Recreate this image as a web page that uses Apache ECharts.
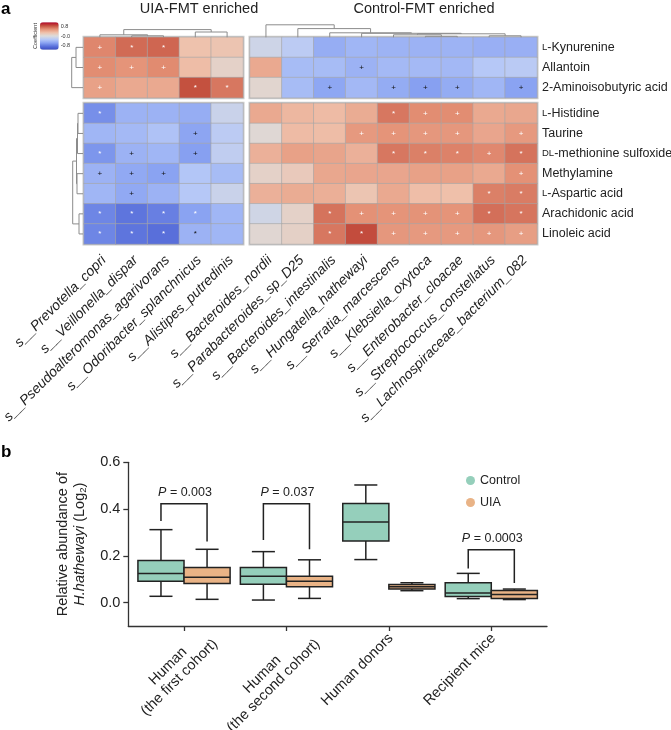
<!DOCTYPE html>
<html><head><meta charset="utf-8">
<script src="https://cdn.jsdelivr.net/npm/echarts@6/dist/echarts.min.js"></script>
<style>html,body{margin:0;padding:0;background:#fff}#c{width:671px;height:730px}</style>
</head><body><div id="c"></div>
<script>
const FONT = '"Liberation Sans", Arial, Helvetica, sans-serif';

// ---------- panel a data ----------
const metabolites = ['L-Kynurenine','Allantoin','2-Aminoisobutyric acid','L-Histidine','Taurine','DL-methionine sulfoxide','Methylamine','L-Aspartic acid','Arachidonic acid','Linoleic acid'];
const uiaTaxa = ['s__Prevotella_copri','s__Veillonella_dispar','s__Pseudoalteromonas_agarivorans','s__Odoribacter_splanchnicus','s__Alistipes_putredinis'];
const ctrlTaxa = ['s__Bacteroides_nordii','s__Parabacteroides_sp_D25','s__Bacteroides_intestinalis','s__Hungatella_hathewayi','s__Serratia_marcescens','s__Klebsiella_oxytoca','s__Enterobacter_cloacae','s__Streptococcus_constellatus','s__Lachnospiraceae_bacterium_082'];

const uiaCoef = [
  [0.65, 0.78, 0.80, 0.28, 0.26],
  [0.62, 0.58, 0.63, 0.32, 0.12],
  [0.50, 0.45, 0.45, 0.90, 0.72],
  [-0.72, -0.48, -0.48, -0.52, -0.15],
  [-0.45, -0.42, -0.35, -0.58, -0.25],
  [-0.68, -0.48, -0.45, -0.62, -0.22],
  [-0.48, -0.55, -0.60, -0.32, -0.40],
  [-0.45, -0.55, -0.48, -0.30, -0.15],
  [-0.78, -0.88, -0.82, -0.60, -0.45],
  [-0.78, -0.88, -0.92, -0.48, -0.45]
];
const ctrlCoef = [
  [-0.12, -0.25, -0.52, -0.45, -0.47, -0.48, -0.47, -0.50, -0.50],
  [0.45, -0.40, -0.40, -0.48, -0.42, -0.42, -0.43, -0.30, -0.27],
  [0.08, -0.40, -0.57, -0.43, -0.53, -0.62, -0.53, -0.45, -0.60],
  [0.45, 0.36, 0.33, 0.43, 0.72, 0.62, 0.62, 0.45, 0.46],
  [0.05, 0.33, 0.32, 0.55, 0.58, 0.56, 0.56, 0.47, 0.55],
  [0.40, 0.50, 0.48, 0.40, 0.72, 0.68, 0.67, 0.64, 0.74],
  [0.12, 0.20, 0.46, 0.47, 0.47, 0.50, 0.50, 0.45, 0.60],
  [0.40, 0.43, 0.41, 0.25, 0.45, 0.31, 0.30, 0.68, 0.70],
  [-0.10, 0.12, 0.74, 0.60, 0.58, 0.59, 0.58, 0.76, 0.73],
  [0.06, 0.13, 0.72, 0.92, 0.56, 0.55, 0.55, 0.56, 0.52]
];
// significance markers ('.' = none)
const uiaSig = ['+**..','+++..','+..**','*....','...+.','*+.+.','+++..','.+...','****.','****.'];
const ctrlSig = ['.........','...+.....','..+.+++.+','....*++..','...++++.+','....***+*','........+','.......**','..*++++**','..**+++++'];

// dendrogram linkages: [childA, childB, height]; leaves 0..n-1, merges numbered n, n+1, ...
const colLinkUIA = [[1,2,1.5],[0,5,2.5],[3,4,5.3],[6,7,7.7]];
const colLinkCtrl = [[5,6,1.0],[7,8,1.5],[4,9,2.5],[11,10,3.5],[3,12,4.0],[2,13,4.5],[1,14,8.7],[0,15,12.5]];
const rowLinkTop = [[0,1,7],[2,3,11.3]];
const rowLinkBottom = [[0,1,5],[7,2,5.5],[3,4,6],[8,9,6.5],[5,6,4],[10,11,10.3]];

const colorbarTicks = [0.8, 0, -0.8];

// ---------- panel b data ----------
const boxCats = ['Human\n(the first cohort)','Human\n(the second cohort)','Human donors','Recipient mice'];
// [min, Q1, median, Q3, max]
const controlBox = [[0.027,0.091,0.125,0.180,0.312],[0.011,0.079,0.113,0.150,0.218],[0.184,0.264,0.345,0.424,0.503],[0.017,0.026,0.041,0.085,0.125]];
const uiaBox = [[0.014,0.082,0.108,0.150,0.228],[0.018,0.068,0.091,0.113,0.183],[0.051,0.058,0.068,0.077,0.085],[0.013,0.018,0.035,0.052,0.058]];
const pCats = [1, 2, 4];
const pTop = [0.423, 0.423, 0.226];
const pLeftEnd = [0.349, 0.268, 0.146];
const pRightEnd = [0.261, 0.228, 0.084];
const pLabels = ['0.003', '0.037', '0.0003'];
const yTicks = [0, 0.2, 0.4, 0.6];

// ---------- helpers ----------
function markColor(v, m){ if (v > 0) return '#ffffff'; return (m === '*' && v <= -0.5) ? '#ffffff' : '#111111'; }
function hmData(coef, sig, r0, r1){
  const out = [];
  for (let r = r0; r < r1; r++) for (let c = 0; c < coef[r].length; c++) {
    const v = coef[r][c], m = sig[r][c];
    out.push({ value: [c, r - r0, v], label: m === '.' ? { show: false } : { show: true, formatter: m, color: markColor(v, m) } });
  }
  return out;
}
function dendroSegs(n, link){
  const pos = [], ht = [], segs = [];
  for (let i = 0; i < n; i++) { pos[i] = i + 0.5; ht[i] = 0; }
  link.forEach(([a, b, h], k) => { pos[n + k] = (pos[a] + pos[b]) / 2; ht[n + k] = h; segs.push([pos[a], ht[a], pos[b], ht[b], h]); });
  return segs;
}
function dendroRender(colMode){
  return function(params, api){
    const a = api.value(0), ha = api.value(1), b = api.value(2), hb = api.value(3), h = api.value(4);
    const pt = (p, hh) => colMode ? api.coord([p, hh]) : api.coord([hh, p]);
    return { type: 'polyline', shape: { points: [pt(a, ha), pt(a, h), pt(b, h), pt(b, hb)] }, style: { stroke: '#8c8c8c', lineWidth: 1, fill: null } };
  };
}
function metLabel(v){
  if (v.indexOf('DL-') === 0) return '{sc|DL}' + v.slice(2);
  if (v.indexOf('L-') === 0) return '{sc|L}' + v.slice(1);
  return v;
}
const BOX_OFF = 0.225;   // half distance between paired boxes (axis units)
function boxRender(offset, fill){
  return function(params, api){
    const x = api.value(0), mn = api.value(1), q1 = api.value(2), md = api.value(3), q3 = api.value(4), mx = api.value(5);
    const xc = x + offset;
    const cx = api.coord([xc, md])[0];
    const half = api.size([BOX_OFF, 0])[0];
    const cap = half * 0.5;
    const y = v => api.coord([xc, v])[1];
    const ls = { stroke: '#222', lineWidth: 1.5 };
    return { type: 'group', children: [
      { type: 'line', shape: { x1: cx, y1: y(q3), x2: cx, y2: y(mx) }, style: ls },
      { type: 'line', shape: { x1: cx - cap, y1: y(mx), x2: cx + cap, y2: y(mx) }, style: ls },
      { type: 'line', shape: { x1: cx, y1: y(q1), x2: cx, y2: y(mn) }, style: ls },
      { type: 'line', shape: { x1: cx - cap, y1: y(mn), x2: cx + cap, y2: y(mn) }, style: ls },
      { type: 'rect', shape: { x: cx - half, y: y(q3), width: 2 * half, height: y(q1) - y(q3) }, style: { fill: fill, stroke: '#222', lineWidth: 1.5 } },
      { type: 'line', shape: { x1: cx - half, y1: y(md), x2: cx + half, y2: y(md) }, style: ls }
    ]};
  };
}
const CTRL_COLOR = '#95cfbb', UIA_COLOR = '#e9b386';

// measure text for centred multi-line category labels
const mctx = document.createElement('canvas').getContext('2d');
mctx.font = '14.5px "Liberation Sans"';
const boxRich = {};
boxCats.forEach((c, i) => {
  const lines = c.split('\n');
  const w = Math.max.apply(null, lines.map(l => mctx.measureText(l).width));
  boxRich['w' + i] = { width: w, align: 'center', fontSize: 14.5, fontFamily: FONT, color: '#222', lineHeight: 16 };
});
function boxCatLabel(v){
  const i = Math.round(v) - 1;
  const lines = boxCats[i].split('\n');
  if (lines.length === 1) return boxCats[i];
  return lines.map(l => '{w' + i + '|' + l + '}').join('\n');
}

// ---------- layout ----------
const HM_TOP1 = 37.3, HM_H1 = 60.4, HM_TOP2 = 103.3, HM_H2 = 140.7;
const L_LEFT = 84, L_W = 159, R_LEFT = 250, R_W = 287;
const blockGrid = { show: true, borderColor: '#cacaca', borderWidth: 3, backgroundColor: 'transparent' };

const grids = [
  Object.assign({ left: L_LEFT, top: HM_TOP1, width: L_W, height: HM_H1 }, blockGrid),   //0
  Object.assign({ left: L_LEFT, top: HM_TOP2, width: L_W, height: HM_H2 }, blockGrid),   //1
  Object.assign({ left: R_LEFT, top: HM_TOP1, width: R_W, height: HM_H1 }, blockGrid),   //2
  Object.assign({ left: R_LEFT, top: HM_TOP2, width: R_W, height: HM_H2 }, blockGrid),   //3
  { left: L_LEFT + 4, top: HM_TOP2, width: L_W, height: HM_H2 },                          //4 labels
  { left: R_LEFT + 4, top: HM_TOP2, width: R_W, height: HM_H2 },                          //5 labels
  { left: L_LEFT, top: 26, width: L_W, height: HM_TOP1 - 26 },                            //6 col dendro L
  { left: R_LEFT, top: 22, width: R_W, height: HM_TOP1 - 22 },                            //7 col dendro R
  { left: 71, top: HM_TOP1, width: 12, height: HM_H1 },                                   //8 row dendro top
  { left: 71, top: HM_TOP2, width: 12, height: HM_H2 },                                   //9 row dendro bottom
  { left: 40, top: 22.3, width: 18.7, height: 27.4 },                                     //10 colorbar axis
  { left: 128.3, top: 462.3, width: 418.7, height: 163.7 }                                //11 box plot
].map(g => Object.assign(g, { containLabel: false, outerBoundsMode: 'none' }));

const hidden = { show: false };
const colLabel = { interval: 0, rotate: 45, margin: 14, fontSize: 14, fontStyle: 'italic', color: '#222', fontFamily: FONT };
const xAxes = [
  { type: 'category', gridIndex: 0, data: uiaTaxa, show: false },
  { type: 'category', gridIndex: 1, data: uiaTaxa, show: false },
  { type: 'category', gridIndex: 2, data: ctrlTaxa, show: false },
  { type: 'category', gridIndex: 3, data: ctrlTaxa, show: false },
  { type: 'category', gridIndex: 4, data: uiaTaxa, position: 'bottom', axisLine: hidden, axisTick: hidden, splitLine: hidden, axisLabel: colLabel },
  { type: 'category', gridIndex: 5, data: ctrlTaxa, position: 'bottom', axisLine: hidden, axisTick: hidden, splitLine: hidden, axisLabel: colLabel },
  { type: 'value', gridIndex: 6, min: 0, max: uiaTaxa.length, show: false },
  { type: 'value', gridIndex: 7, min: 0, max: ctrlTaxa.length, show: false },
  { type: 'value', gridIndex: 8, min: 0, max: 12, inverse: true, show: false },
  { type: 'value', gridIndex: 9, min: 0, max: 12, inverse: true, show: false },
  { type: 'value', gridIndex: 10, show: false },
  { type: 'value', gridIndex: 11, min: 0.456, max: 4.544,
    axisLine: { show: true, onZero: false, lineStyle: { color: '#333', width: 1.3 } },
    axisTick: { show: true, length: 5, customValues: [1, 2, 3, 4], lineStyle: { color: '#333', width: 1.3 } },
    axisLabel: { show: true, customValues: [1.25, 2.25, 3.02, 4.02], rotate: 45, margin: 10, formatter: boxCatLabel,
      fontSize: 14.5, color: '#222', fontFamily: FONT, rich: boxRich },
    splitLine: hidden }
];
const rowLabel = { show: true, margin: 5, fontSize: 12.5, color: '#222', fontFamily: FONT, formatter: metLabel,
  rich: { sc: { fontSize: 9.5, color: '#222', fontFamily: FONT } } };
const yAxes = [
  { type: 'category', gridIndex: 0, data: metabolites.slice(0, 3), inverse: true, show: false },
  { type: 'category', gridIndex: 1, data: metabolites.slice(3), inverse: true, show: false },
  { type: 'category', gridIndex: 2, data: metabolites.slice(0, 3), inverse: true, position: 'right', axisLine: hidden, axisTick: hidden, splitLine: hidden, axisLabel: rowLabel },
  { type: 'category', gridIndex: 3, data: metabolites.slice(3), inverse: true, position: 'right', axisLine: hidden, axisTick: hidden, splitLine: hidden, axisLabel: rowLabel },
  { type: 'value', gridIndex: 4, show: false },
  { type: 'value', gridIndex: 5, show: false },
  { type: 'value', gridIndex: 6, min: 0, max: HM_TOP1 - 26, show: false },
  { type: 'value', gridIndex: 7, min: 0, max: HM_TOP1 - 22, show: false },
  { type: 'value', gridIndex: 8, min: 0, max: 3, inverse: true, show: false },
  { type: 'value', gridIndex: 9, min: 0, max: 7, inverse: true, show: false },
  { type: 'value', gridIndex: 10, min: -1.2, max: 1.2, position: 'right',
    axisLine: hidden, splitLine: hidden,
    axisTick: { show: true, length: 2, customValues: colorbarTicks, lineStyle: { color: '#555', width: 0.6 } },
    axisLabel: { show: true, customValues: colorbarTicks, margin: 2, fontSize: 5.5, color: '#333', fontFamily: FONT,
      formatter: v => (v === 0 ? '-0.0' : v.toFixed(1)) } },
  { type: 'value', gridIndex: 11, min: -0.1, max: 0.6,
    axisLine: { show: true, onZero: false, lineStyle: { color: '#333', width: 1.3 } },
    axisTick: { show: true, length: 5, customValues: yTicks, lineStyle: { color: '#333', width: 1.3 } },
    axisLabel: { show: true, customValues: yTicks, margin: 8, fontSize: 14.5, color: '#222', fontFamily: FONT, formatter: v => v.toFixed(1) },
    splitLine: hidden,
    name: 'Relative abundance of\n{i|H.hathewayi} (Log{s|2})', nameLocation: 'middle', nameGap: 40, nameRotate: 90,
    nameTextStyle: { fontSize: 14.5, color: '#222', fontFamily: FONT, lineHeight: 17,
      rich: { i: { fontStyle: 'italic', fontSize: 14.5, color: '#222', fontFamily: FONT, lineHeight: 17 },
              s: { fontSize: 9.5, color: '#222', fontFamily: FONT, verticalAlign: 'bottom', lineHeight: 12 } } } }
];

const hmSeries = (xi, yi, data) => ({ type: 'heatmap', xAxisIndex: xi, yAxisIndex: yi, data: data, silent: true,
  itemStyle: { borderColor: '#a6a6a6', borderWidth: 0.6 }, emphasis: { disabled: true },
  label: { fontSize: 8, fontFamily: FONT } });
const dendroSeries = (xi, segs, colMode) => ({ type: 'custom', coordinateSystem: 'cartesian2d', xAxisIndex: xi, yAxisIndex: xi,
  data: segs, renderItem: dendroRender(colMode), silent: true, clip: false });

const option = {
  animation: false,
  textStyle: { fontFamily: FONT },
  grid: grids,
  xAxis: xAxes,
  yAxis: yAxes,
  visualMap: { type: 'continuous', min: -1.2, max: 1.2, seriesIndex: [0, 1, 2, 3], show: true, left: 40, top: 22.3,
    itemWidth: 18.7, itemHeight: 27.4, padding: 0, text: null, calculable: false, hoverLink: false,
    inRange: { color: ['#3a4cc0', '#5b72dc', '#8aa3f2', '#b6c8f7', '#dcdcdc', '#efc0aa', '#e49176', '#c4513f', '#b40426'] } },
  legend: { data: [{ name: 'Control', icon: 'circle' }, { name: 'UIA', icon: 'circle' }], orient: 'vertical', left: 466, top: 474,
    padding: 0, itemWidth: 9, itemHeight: 9, itemGap: 9, selectedMode: false,
    textStyle: { fontSize: 12.5, color: '#222', fontFamily: FONT } },
  graphic: [
    { type: 'text', x: 1, y: 1, style: { text: 'a', fontSize: 17, fontWeight: 'bold', fill: '#000', fontFamily: FONT } },
    { type: 'text', x: 1, y: 444, style: { text: 'b', fontSize: 17, fontWeight: 'bold', fill: '#000', fontFamily: FONT } },
    { type: 'text', x: 199, y: 9, style: { text: 'UIA-FMT enriched', fontSize: 14.5, fill: '#222', fontFamily: FONT, align: 'center', verticalAlign: 'middle' } },
    { type: 'text', x: 424, y: 9, style: { text: 'Control-FMT enriched', fontSize: 14.5, fill: '#222', fontFamily: FONT, align: 'center', verticalAlign: 'middle' } },
    { type: 'text', x: 35, y: 36, rotation: Math.PI / 2, style: { text: 'Coefficient', fontSize: 5.5, fill: '#333', fontFamily: FONT, align: 'center', verticalAlign: 'middle' } }
  ],
  series: [
    hmSeries(0, 0, hmData(uiaCoef, uiaSig, 0, 3)),
    hmSeries(1, 1, hmData(uiaCoef, uiaSig, 3, 10)),
    hmSeries(2, 2, hmData(ctrlCoef, ctrlSig, 0, 3)),
    hmSeries(3, 3, hmData(ctrlCoef, ctrlSig, 3, 10)),
    dendroSeries(6, dendroSegs(uiaTaxa.length, colLinkUIA), true),
    dendroSeries(7, dendroSegs(ctrlTaxa.length, colLinkCtrl), true),
    dendroSeries(8, dendroSegs(3, rowLinkTop), false),
    dendroSeries(9, dendroSegs(7, rowLinkBottom), false),
    { name: 'Control', type: 'custom', coordinateSystem: 'cartesian2d', xAxisIndex: 11, yAxisIndex: 11, silent: true,
      itemStyle: { color: CTRL_COLOR }, data: controlBox.map((b, i) => [i + 1].concat(b)), renderItem: boxRender(-BOX_OFF, CTRL_COLOR) },
    { name: 'UIA', type: 'custom', coordinateSystem: 'cartesian2d', xAxisIndex: 11, yAxisIndex: 11, silent: true,
      itemStyle: { color: UIA_COLOR }, data: uiaBox.map((b, i) => [i + 1].concat(b)), renderItem: boxRender(BOX_OFF, UIA_COLOR) },
    { name: 'sig', type: 'custom', coordinateSystem: 'cartesian2d', xAxisIndex: 11, yAxisIndex: 11, silent: true,
      data: pCats.map((c, i) => [c, pTop[i], pLeftEnd[i], pRightEnd[i], i]),
      renderItem: function(params, api){
        const x = api.value(0), top = api.value(1), le = api.value(2), re = api.value(3), idx = api.value(4);
        const L = api.coord([x - BOX_OFF, le]), R = api.coord([x + BOX_OFF, re]), T = api.coord([x, top]);
        return { type: 'group', children: [
          { type: 'polyline', shape: { points: [[L[0], L[1]], [L[0], T[1]], [R[0], T[1]], [R[0], R[1]]] }, style: { stroke: '#222', lineWidth: 1.5, fill: null } },
          { type: 'text', x: T[0] + 1, y: T[1] - 11.5, style: { text: '{i|P} = ' + pLabels[idx], fontSize: 12.5, fontFamily: FONT, fill: '#222',
              align: 'center', verticalAlign: 'middle', rich: { i: { fontStyle: 'italic', fontSize: 12.5, fontFamily: FONT, fill: '#222' } } } }
        ]};
      } }
  ]
};
const chart = echarts.init(document.getElementById('c'), null, { renderer: 'canvas' });
chart.setOption(option);
</script></body></html>
